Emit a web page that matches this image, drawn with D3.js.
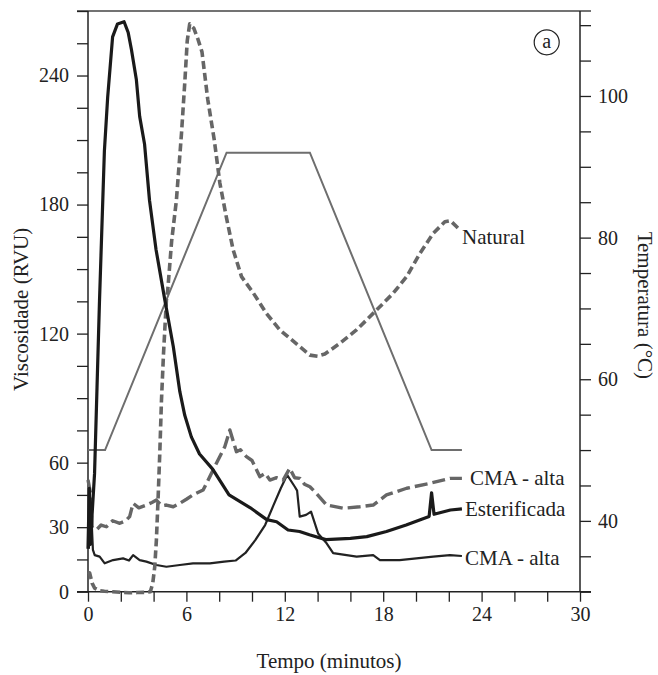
<!DOCTYPE html>
<html lang="pt">
<head>
<meta charset="utf-8">
<script src="https://cdn.jsdelivr.net/npm/d3@7"></script>
<style>
  html, body { margin: 0; padding: 0; background: #fff; }
  #chart { width: 658px; height: 675px; }
  text { font-family: "Liberation Serif", "DejaVu Serif", serif; fill: #222; }
</style>
</head>
<body>
<div id="chart"></div>
<script>
// Tick values and labels
const xTicks = d3.range(0, 31, 2);
const xLabels = [0, 6, 12, 18, 24, 30];
const yLeftTicks = d3.range(0, 271, 15);
const yLeftLabels = [0, 30, 60, 120, 180, 240];
const yRightTicks = d3.range(30, 111, 5);
const yRightLabels = [40, 60, 80, 100];

// Viscosity curves [minutes, RVU]
const natural = [
  [0, 9], [0.1, 8.7], [0.25, 4], [0.4, 1.7], [0.7, 0.5], [1.0, 0.2], [1.5, 0], [2.0, -0.3],
  [2.5, -0.5], [3.0, -0.4], [3.5, -0.3], [3.8, 0], [3.95, 4], [4.07, 11.6], [4.17, 24],
  [4.27, 42.6], [4.38, 65], [4.48, 89], [4.6, 110], [4.78, 135.6], [4.86, 140], [5.1, 163],
  [5.39, 182], [5.7, 213], [5.9, 236.5], [6.05, 256], [6.2, 264], [6.45, 262], [6.7, 257],
  [6.95, 251], [7.3, 229], [7.7, 210], [8.04, 190], [8.44, 174], [8.85, 159], [9.36, 146.5],
  [10.07, 139], [10.88, 129.4], [11.7, 121.7], [12.92, 113.9], [13.53, 110], [14.0, 109.5],
  [14.44, 110.5], [15.36, 115.5], [16.37, 121.7], [17.6, 131], [18.6, 138.7], [19.43, 146.5],
  [20.24, 157.3], [21.05, 166.6], [21.76, 172], [22.1, 172.5], [22.48, 169.7], [22.7, 168]
];

const esterificada = [
  [0, 20], [0.08, 48], [0.15, 22], [0.25, 36], [0.4, 55], [0.55, 95], [0.7, 135], [1.0, 205],
  [1.2, 230], [1.5, 258], [1.8, 264], [2.2, 265], [2.45, 260], [2.65, 252], [2.95, 238],
  [3.15, 221], [3.45, 208], [3.75, 182], [4.15, 159], [4.7, 135], [5.2, 114], [5.6, 93],
  [5.9, 82], [6.3, 72], [6.8, 64], [7.6, 57], [8.6, 45], [9.9, 39], [10.9, 33.5], [11.5, 32.5],
  [12.2, 28.7], [12.9, 28], [13.5, 26.5], [14.5, 24.2], [16, 24.8], [17, 25.6], [18.2, 28],
  [19.4, 31], [20.8, 35], [20.95, 46], [21.1, 36], [22.1, 38], [22.8, 38.5]
];

const cmaAltaSup = [
  [0, 52], [0.15, 46], [0.25, 30], [0.51, 28.7], [0.8, 31], [1.12, 30.2], [1.5, 33], [1.94, 31.8],
  [2.3, 33], [2.54, 34.9], [2.75, 41.1], [3.1, 39], [3.56, 40.3], [3.9, 41.5], [4.17, 42.6],
  [4.5, 40], [4.78, 40.3], [5.2, 39.5], [5.6, 41.1], [6.0, 43], [6.4, 45], [7.02, 47.3],
  [7.43, 53.5], [7.83, 59.7], [8.34, 67.4], [8.65, 75.2], [9.05, 65.1], [9.3, 66], [9.66, 62.8],
  [10.0, 61], [10.48, 53.5], [10.8, 55], [11.09, 51.9], [11.5, 53], [11.9, 51.9], [12.3, 57.4],
  [12.6, 53], [12.92, 52.7], [13.2, 50], [13.53, 48.8], [13.93, 45.7], [14.55, 40.3],
  [15.56, 38.8], [16.58, 39.5], [17.39, 40.3], [18.2, 45], [19.43, 48.1], [20.85, 50.4],
  [22.07, 52.7], [22.8, 52.7]
];

const cmaAltaInf = [
  [0.05, 20], [0.2, 36.4], [0.3, 19.4], [0.41, 17], [0.71, 16.3], [1.02, 13.2], [1.53, 14.7],
  [2.14, 15.5], [2.5, 14.5], [2.75, 17], [3.15, 14.7], [3.56, 14], [4.17, 12.4], [4.78, 11.6],
  [5.6, 12.4], [6.4, 13.2], [7.43, 13.2], [8.3, 14], [9.0, 14.5], [9.6, 18], [10.2, 24],
  [10.8, 31], [11.3, 40], [11.75, 48], [12.14, 54.3], [12.61, 48.8], [12.75, 47], [12.91, 34.9],
  [13.3, 35.7], [13.6, 37.2], [14.03, 27.1], [14.55, 22.5], [14.95, 17.9], [15.77, 17],
  [16.38, 16.3], [17.39, 17], [17.8, 14.7], [19.0, 14.7], [21.05, 16.3], [22.07, 17], [22.8, 16.6]
];

// Temperature profile [minutes, °C]
const temperatura = [
  [0, 50], [1.04, 50], [8.45, 92], [13.53, 92], [20.95, 50], [22.8, 50]
];

(function () {
  const width = 658;
  const height = 675;

  const plot = { left: 88, right: 580, top: 11, bottom: 591.7 };
  const tickLen = 11;

  const svg = d3
    .select("#chart")
    .append("svg")
    .attr("width", width)
    .attr("height", height);

  // Scales
  const x = d3.scaleLinear().domain([0, 30]).range([plot.left, plot.right]);
  const yL = d3.scaleLinear().domain([0, 270]).range([plot.bottom, plot.top]);
  const yR = d3.scaleLinear().domain([30, 112]).range([plot.bottom, plot.top]);

  // Top frame line
  svg.append("line")
    .attr("x1", plot.left - tickLen)
    .attr("x2", plot.right + tickLen)
    .attr("y1", plot.top)
    .attr("y2", plot.top)
    .attr("stroke", "#444")
    .attr("stroke-width", 1.5);

  // Axes
  const xAxis = d3.axisBottom(x)
    .tickValues(xTicks)
    .tickSize(10)
    .tickSizeOuter(0)
    .tickPadding(5)
    .tickFormat((d) => (xLabels.includes(d) ? d : ""));

  const yLeftAxis = d3.axisLeft(yL)
    .tickValues(yLeftTicks)
    .tickSize(tickLen)
    .tickSizeOuter(0)
    .tickPadding(8)
    .tickFormat((d) => (yLeftLabels.includes(d) ? d : ""));

  const yRightAxis = d3.axisRight(yR)
    .tickValues(yRightTicks)
    .tickSize(tickLen)
    .tickSizeOuter(0)
    .tickPadding(7)
    .tickFormat((d) => (yRightLabels.includes(d) ? d : ""));

  const gx = svg.append("g")
    .attr("transform", `translate(0,${plot.bottom})`)
    .call(xAxis);

  const gyl = svg.append("g")
    .attr("transform", `translate(${plot.left},0)`)
    .call(yLeftAxis);

  const gyr = svg.append("g")
    .attr("transform", `translate(${plot.right},0)`)
    .call(yRightAxis);

  [gx, gyl, gyr].forEach((g) => {
    g.selectAll(".domain").attr("stroke", "#222").attr("stroke-width", 1.5);
    g.selectAll(".tick line").attr("stroke", "#222").attr("stroke-width", 1.3);
    g.selectAll(".tick text")
      .attr("font-size", 20)
      .attr("font-family", "'Liberation Serif', 'DejaVu Serif', serif")
      .attr("fill", "#222");
  });

  // axis lines run the full frame height / width
  gyl.select(".domain").attr("d", `M0,${plot.top}V${plot.bottom}`);
  gyr.select(".domain").attr("d", `M0,${plot.top}V${plot.bottom}`);
  gx.select(".domain").attr("d", `M${plot.left - tickLen},0H${plot.right + tickLen}`);

  // Axis titles
  svg.append("text")
    .attr("transform", `translate(28,${(plot.top + plot.bottom) / 2 + 8}) rotate(-90)`)
    .attr("text-anchor", "middle")
    .attr("font-size", 21)
    .text("Viscosidade (RVU)");

  svg.append("text")
    .attr("transform", `translate(638,${(plot.top + plot.bottom) / 2 + 4}) rotate(90)`)
    .attr("text-anchor", "middle")
    .attr("font-size", 21)
    .text("Temperatura (°C)");

  svg.append("text")
    .attr("x", (plot.left + plot.right) / 2 - 5)
    .attr("y", 668)
    .attr("text-anchor", "middle")
    .attr("font-size", 21)
    .text("Tempo (minutos)");

  // Line generators
  const lineL = d3.line().x((d) => x(d[0])).y((d) => yL(d[1]));
  const lineR = d3.line().x((d) => x(d[0])).y((d) => yR(d[1]));

  // Temperature (right axis)
  svg.append("path")
    .datum(temperatura)
    .attr("d", lineR)
    .attr("fill", "none")
    .attr("stroke", "#6e6e6e")
    .attr("stroke-width", 2);

  // Viscosity series
  const series = [
    { data: cmaAltaInf, color: "#222", width: 2.2, dash: null },
    { data: cmaAltaSup, color: "#666", width: 3.4, dash: "13,5" },
    { data: natural, color: "#666", width: 3.6, dash: "8,4" },
    { data: esterificada, color: "#1a1a1a", width: 3.2, dash: null },
  ];

  series.forEach((s) => {
    svg.append("path")
      .datum(s.data)
      .attr("d", lineL)
      .attr("fill", "none")
      .attr("stroke", s.color)
      .attr("stroke-width", s.width)
      .attr("stroke-linejoin", "round")
      .attr("stroke-dasharray", s.dash);
  });

  // Curve labels
  const labels = [
    { text: "Natural", x: 462, y: 244 },
    { text: "CMA - alta", x: 470, y: 485 },
    { text: "Esterificada", x: 465, y: 516 },
    { text: "CMA - alta", x: 465, y: 565 },
  ];

  svg.selectAll(".curve-label")
    .data(labels)
    .join("text")
    .attr("class", "curve-label")
    .attr("x", (d) => d.x)
    .attr("y", (d) => d.y)
    .attr("font-size", 21)
    .text((d) => d.text);

  // Panel marker (a)
  svg.append("circle")
    .attr("cx", 546.7)
    .attr("cy", 42.3)
    .attr("r", 12.5)
    .attr("fill", "none")
    .attr("stroke", "#222")
    .attr("stroke-width", 1.2);

  svg.append("text")
    .attr("x", 546.7)
    .attr("y", 42.3)
    .attr("dy", "0.3em")
    .attr("text-anchor", "middle")
    .attr("font-size", 20)
    .text("a");
})();
</script>
</body>
</html>
